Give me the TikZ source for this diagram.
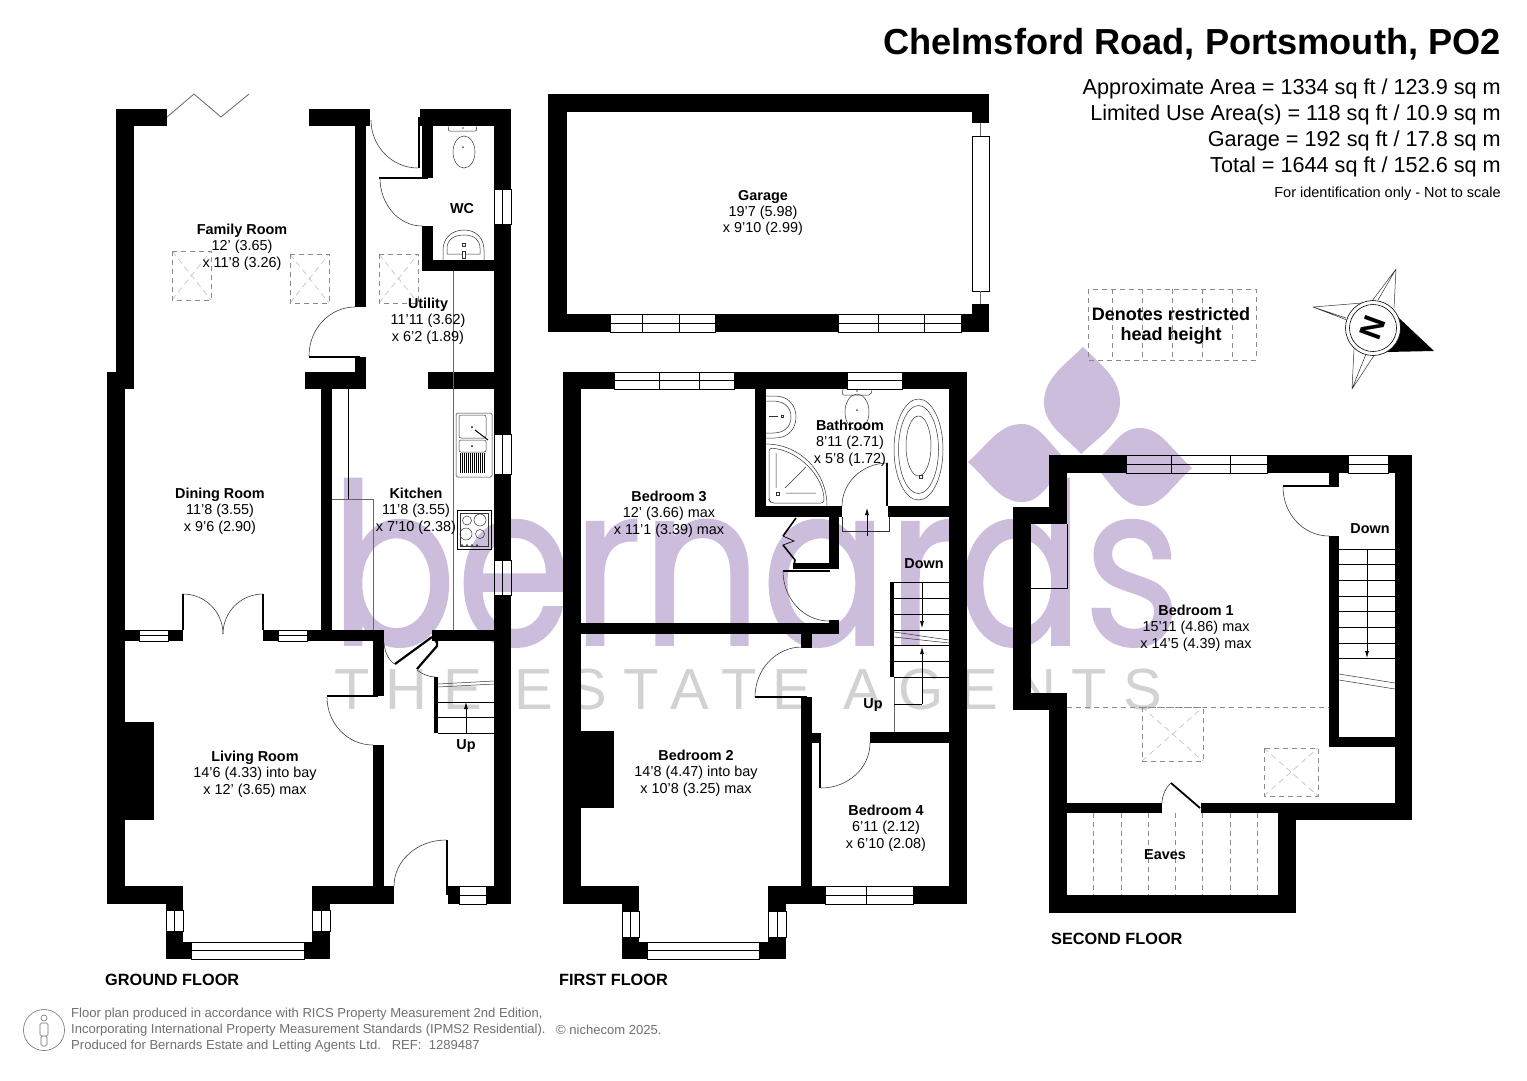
\documentclass[tikz,border=0pt]{standalone}
\usepackage{fontspec}
\setmainfont{Liberation Sans}
\newfontfamily\wmfont[FakeBold=.8]{Poppins}
\newfontfamily\wmtwo[LetterSpace=27.6]{Liberation Sans}
\usetikzlibrary{calc,arrows.meta}
\definecolor{wmpurple}{HTML}{CBBDDB}
\definecolor{wmgray}{HTML}{D2D2D2}
\definecolor{dashgray}{HTML}{8A8A8A}
\definecolor{footgray}{HTML}{707070}
\tikzset{
  wallfill/.style={fill=black},
  thinline/.style={draw=black,line width=.7pt},
  greyline/.style={draw=black!60,line width=.8pt},
  fixture/.style={draw=black!80,line width=.5pt},
  doorarc/.style={draw=black!75,line width=.6pt},
  skydash/.style={draw=dashgray,line width=.7pt,dash pattern=on 5pt off 4pt},
  skydiag/.style={draw=black!25,line width=.6pt,dash pattern=on 6pt off 4pt},
  roomlabel/.style={align=center,font=\fontsize{14.4}{16.3}\selectfont,inner sep=0pt,yshift=-1pt},
  boldlabel/.style={font=\fontsize{14.4}{16}\selectfont\bfseries,inner sep=0pt,yshift=-1pt},
  floorlabel/.style={font=\fontsize{16.3}{18}\selectfont\bfseries,inner sep=0pt,anchor=west,yshift=-1pt},
  infoline/.style={font=\fontsize{21.65}{24}\selectfont,inner sep=0pt,anchor=east,yshift=-2pt},
  footline/.style={font=\fontsize{13.05}{14}\selectfont,text=footgray,inner sep=0pt,anchor=west,yshift=-1pt},
  stairarrow/.style={thinline,-{Latex[length=7pt,width=4pt]}}
}
\newcommand{\W}[4]{\fill[wallfill] (#1,#2) rectangle (#3,#4);}
\newcommand{\winh}[4]{\draw[thinline] (#1,#2) rectangle (#3,#4); \draw[thinline] (#1,{(#2+#4)/2}) -- (#3,{(#2+#4)/2});}
\newcommand{\winv}[4]{\draw[thinline] (#1,#2) rectangle (#3,#4); \draw[thinline] ({(#1+#3)/2},#2) -- ({(#1+#3)/2},#4);}
\newcommand{\qarc}[3]{\draw[doorarc] (#1) .. controls ($(#1)!.5523!(#2)$) and ($(#3)!.5523!(#2)$) .. (#3);}
\newcommand{\sky}[4]{\draw[skydiag] (#1,#2) -- (#3,#4) (#1,#4) -- (#3,#2); \draw[skydash] (#1,#2) rectangle (#3,#4);}
\newcommand{\room}[4]{\node[roomlabel] at (#1) {\textbf{#2}\\#3\\#4};}
\begin{document}
\begin{tikzpicture}[x=1pt,y=-1pt]
\useasboundingbox (0,0) rectangle (1527,1080);
\fill[white] (0,0) rectangle (1527,1080);
% ---------- watermark
\fill[wmpurple] (1083,347) .. controls (1100,364) and (1120,378) .. (1120,402) .. controls (1120,425) and (1100,436) .. (1081,454) .. controls (1065,436) and (1044,425) .. (1044,402) .. controls (1044,378) and (1066,364) .. (1083,347) -- cycle;
\fill[wmpurple] (968,462) .. controls (990,442) and (1000,424) .. (1022,424) .. controls (1040,424) and (1050,445) .. (1068,462) .. controls (1050,480) and (1042,502) .. (1022,502) .. controls (1000,502) and (990,482) .. (968,462) -- cycle;
\fill[wmpurple] (1093,464) .. controls (1115,445) and (1120,428) .. (1140,428) .. controls (1160,428) and (1170,448) .. (1192,468) .. controls (1170,488) and (1162,506) .. (1142,506) .. controls (1122,506) and (1112,484) .. (1093,464) -- cycle;
\node[anchor=base west,inner sep=0pt,text=wmpurple,xscale=.83] (wmark) at (330,645) {\wmfont\fontsize{225}{225}\selectfont bernards};
\node[anchor=base west,inner sep=0pt,text=wmgray] (wmarktwo) at (334,709) {\wmtwo\fontsize{58}{58}\selectfont THE ESTATE AGENTS};
% ---------- GROUND FLOOR walls
\W{116}{109}{167}{126}\W{116}{109}{134}{389}\W{107}{372}{134}{389}\W{107}{372}{125}{904}
\W{309}{109}{370}{126}\W{355}{126}{366}{307}\W{420}{109}{511}{126}
\W{422}{126}{433}{178}\W{422}{226}{433}{271}\W{422}{260}{494}{271}
\W{494}{109}{511}{189}\W{494}{224}{511}{434}\W{494}{474}{511}{560}\W{494}{595}{511}{904}
\W{355}{357}{366}{372}\W{305}{372}{366}{389}\W{428}{372}{494}{389}\W{321}{389}{332}{630}
\W{107}{630}{139}{641}\W{168}{630}{183}{641}\W{263}{630}{278}{641}\W{307}{630}{384}{641}
\W{373}{641}{384}{696}\W{373}{745}{384}{904}\W{432}{630}{494}{641}
\W{107}{886}{183}{904}\W{166}{904}{183}{910}\W{166}{931}{183}{959}\W{183}{942}{191}{959}
\W{312}{886}{394}{904}\W{312}{904}{330}{910}\W{312}{931}{330}{959}\W{304}{942}{312}{959}
\W{448}{886}{459}{904}\W{486}{886}{511}{904}
\W{125}{722}{154}{820}
\W{434}{677}{438}{733}
% leaves
\W{418}{117}{420}{168}\W{379}{177}{428}{179}\W{309}{356}{360}{358}
\W{182}{594}{184}{630}\W{262}{594}{264}{630}\W{327}{695}{378}{697}\W{446}{840}{448}{895}
\qarc{371,120}{371,168}{418,168}
\qarc{380,178}{380,226}{422,226}
\qarc{355,307}{309,307}{309,356}
\qarc{183,594}{223,594}{223,634}
\qarc{263,594}{223,594}{223,634}
\qarc{327,697}{327,745}{373,745}
\qarc{384,643}{385,660}{395,664}
\qarc{394,886}{394,840}{446,840}
\qarc{417,670}{425,677}{435,677}
\draw[black,line width=2.2pt] (395,664) -- (432,637);
\draw[black,line width=2.2pt] (417,669) -- (437,646) -- (437,641);
\draw[black,line width=1.5pt] (432,637) -- (437,643);
% ground windows
\winv{494}{189}{511}{224}\winv{494}{434}{511}{474}\winv{494}{560}{511}{595}
\winh{139}{630}{168}{641}\winh{278}{630}{307}{641}
\winv{166}{910}{183}{931}\winv{312}{910}{330}{931}
\winh{191}{942}{304}{959}\winh{459}{886}{486}{904}
% ground misc lines
\draw[greyline] (453,271) -- (453,630);
\draw[thinline] (348,389) -- (348,499);
\draw[greyline] (332,499) -- (373,499) -- (373,630);
\draw[greyline] (167,117) -- (194,94) -- (221,117) -- (249,94);
\sky{172}{251}{211}{300}\sky{290}{254}{329}{303}\sky{379}{254}{418}{303}
% ground stairs
\draw[thinline] (438,733) -- (494,733) (438,717) -- (494,717) (438,702) -- (494,702);
\draw[fixture] (438,684) -- (494,681) (438,687) -- (494,684);
\draw[stairarrow] (466,733) -- (466,702);
% WC fixtures
\draw[fixture,rounded corners=2pt] (449,126) -- (448,131) -- (477,131) -- (476,126);
\draw[fixture] (464,152) ellipse [x radius=11,y radius=16];
\fill[black!70] (463,147) circle [radius=1];\fill[black!70] (463,128) circle [radius=.8];
\draw[fixture] (443,260) -- (443,250) .. controls (443,238) and (452,230) .. (464,230) .. controls (476,230) and (484,238) .. (484,250) -- (484,260);
\draw[fixture] (447,254) -- (447,248) .. controls (447,240) and (454,235) .. (464,235) .. controls (474,235) and (480,240) .. (480,248) -- (480,254) -- cycle;
\draw[fixture,fill=white] (462,243) rectangle (465,246) (462,251) rectangle (465,258);
% sink
\draw[fixture,rounded corners=1.5pt] (456,413) rectangle (492,477);
\draw[fixture,rounded corners=2pt] (459,415) rectangle (486,438);
\draw[fixture,rounded corners=2pt] (459,440) rectangle (486,452);
\fill[black] (472,427) circle [radius=1];\fill[black] (472,446) circle [radius=1];
\draw[black,line width=1pt] (475,430) -- (488,440);
\foreach \dx in {460,462,...,484}{\draw[black,line width=.8pt] (\dx,453) -- (\dx,473);}
% hob
\draw[thinline] (457,510) rectangle (491,549);
\draw[fixture] (460,513) rectangle (488,546);
\draw[fixture] (467,520.5) circle [radius=4.5] (480,520) circle [radius=6] (466,534) circle [radius=6] (480,534) circle [radius=4.5];
\foreach \kx in {462,467,472,477}{\draw[fixture] (\kx,545.5) circle [radius=1];}
% ---------- GARAGE
\W{548}{94}{989}{112}\W{548}{94}{567}{332}\W{972}{112}{989}{123}\W{972}{304}{989}{332}
\W{548}{314}{610}{332}\W{715}{314}{838}{332}\W{961}{314}{989}{332}
\winh{610}{314}{715}{332}\winh{838}{314}{961}{332}
\draw[thinline] (642,314) -- (642,332) (679,314) -- (679,332) (878,314) -- (878,332) (924,314) -- (924,332);
\draw[thinline] (972,136) rectangle (989,291);
\draw[greyline] (980,123) -- (980,136) (980,291) -- (980,304);
% ---------- FIRST FLOOR
\W{563}{372}{581}{904}\W{563}{372}{614}{389}\W{734}{372}{847}{389}\W{902}{372}{967}{389}\W{949}{372}{967}{904}
\W{755}{389}{766}{517}\W{755}{506}{842}{517}\W{888}{506}{949}{517}\W{886}{463}{888}{506}
\W{829}{517}{839}{569}\W{793}{563}{839}{569}
\W{581}{623}{839}{634}\W{829}{620}{839}{623}\W{801}{634}{812}{648}\W{801}{697}{812}{886}
\W{755}{696}{807}{698}\W{812}{733}{821}{743}\W{819}{733}{821}{788}\W{870}{732}{949}{743}
\W{563}{886}{639}{904}\W{622}{904}{639}{911}\W{622}{937}{639}{959}\W{639}{942}{647}{959}
\W{768}{886}{825}{904}\W{768}{904}{786}{911}\W{768}{937}{786}{959}\W{759}{942}{768}{959}
\W{913}{886}{967}{904}
\W{581}{731}{614}{808}
\W{890}{582}{894}{677}\W{783}{570}{830}{572}
\winh{614}{372}{734}{389}\draw[thinline] (659,372) -- (659,389) (699,372) -- (699,389);
\winh{847}{372}{902}{389}
\winv{622}{911}{639}{937}\winv{768}{911}{786}{937}
\winh{647}{942}{759}{959}
\winh{825}{886}{913}{904}\draw[thinline] (866,886) -- (866,904);
\qarc{888,463}{842,463}{842,506}
\qarc{783,571}{783,621}{829,621}
\qarc{802,647}{755,647}{755,697}
\qarc{821,788}{870,788}{870,743}
% wardrobe bifold
\draw[black,line width=1.6pt] (796,518) -- (783,536);
\draw[black,line width=.7pt] (783,536) -- (794,541) -- (783,545);
\draw[black,line width=1.6pt] (783,545) -- (795,560) -- (794,565);
% step at bath door
\draw[fixture] (842,517) -- (842,531) -- (889,531) -- (889,517);
\draw[stairarrow] (867,536) -- (867,508);
% FF stairs
\draw[greyline] (894,677) -- (894,732);
\foreach \ty in {582,598,614,630,645,661,677}{\draw[thinline] (894,\ty) -- (949,\ty);}
\draw[thinline] (894,704) -- (922,704);
\draw[stairarrow] (922,704) -- (922,647);
\draw[stairarrow] (922,582) -- (922,628);
\draw[fixture] (894,632) -- (949,640) (894,637) -- (949,643);
% bathroom fixtures
\draw[fixture] (766,396) -- (775,396) .. controls (789,396) and (796,406) .. (796,417) .. controls (796,428) and (789,438) .. (775,438) -- (766,438);
\draw[fixture] (766,401) -- (773,401) .. controls (785,401) and (791,408) .. (791,417) .. controls (791,426) and (785,433) .. (773,433) -- (766,433);
\draw[fixture] (769,416) -- (778,416);\draw[fixture] (781,415) rectangle (783,417);
\draw[fixture] (766,444) .. controls (800,444) and (827,472) .. (827,506);
\draw[fixture,rounded corners=3pt] (769,448) .. controls (798,450) and (824,476) .. (824,503) -- (771,503) -- (769,500) -- cycle;
\draw[fixture] (776,453) -- (776,488) (785,488) -- (806,467) (786,493) -- (816,493);
\draw[fixture] (776,492) rectangle (779,495);
\draw[fixture,rounded corners=2pt] (843,389) -- (842,395) -- (871,395) -- (872,389);
\draw[fixture] (857,412) ellipse [x radius=12,y radius=18];
\fill[black!70] (857,410) circle [radius=1];\fill[black!70] (857,391) circle [radius=.8];
\draw[fixture] (918.5,449.5) ellipse [x radius=24.5,y radius=50.5];
\draw[fixture] (918.5,449.5) ellipse [x radius=20,y radius=44];
\draw[fixture] (918.5,446) ellipse [x radius=12.5,y radius=30];
\draw[fixture] (919,475) rectangle (922,478);
% ---------- SECOND FLOOR
\W{1049}{455}{1126}{473}\W{1267}{455}{1348}{473}\W{1388}{455}{1412}{473}
\W{1049}{455}{1067}{524}\W{1013}{507}{1067}{524}\W{1013}{507}{1031}{710}\W{1013}{693}{1067}{710}
\W{1049}{693}{1067}{913}\W{1049}{895}{1296}{913}\W{1278}{813}{1296}{913}
\W{1067}{803}{1162}{813}\W{1201}{803}{1412}{813}\W{1296}{803}{1412}{820}
\W{1395}{455}{1412}{820}\W{1329}{536}{1339}{747}\W{1329}{737}{1395}{747}
\W{1329}{473}{1339}{487}\W{1283}{485}{1334}{487}
\winh{1126}{455}{1267}{473}\draw[thinline] (1171,455) -- (1171,473) (1230,455) -- (1230,473);
\winh{1348}{455}{1388}{473}
\qarc{1283,487}{1283,536}{1329,536}
\qarc{1162,803}{1162,790}{1171,783}
\draw[black,line width=1.8pt] (1171,783) -- (1200,808);
\draw[thinline] (1031,588) -- (1067,588) -- (1067,524);
\foreach \ty in {549,564,580,596,611,627,643,658}{\draw[thinline] (1339,\ty) -- (1395,\ty);}
\draw[stairarrow] (1367,549) -- (1367,658);
\draw[fixture] (1339,674) -- (1395,683) (1339,680) -- (1395,689);
\draw[skydash] (1067,707) -- (1329,707);
\sky{1142}{707}{1203}{761}\sky{1264}{748}{1318}{796}
\foreach \ex in {1093,1121,1148,1175,1202,1230,1257}{\draw[skydash] (\ex,813) -- (\ex,895);}
% ---------- key box
\draw[skydash] (1088,289) rectangle (1256,360);
\foreach \bx in {1112,1142,1172,1202,1232}{\draw[skydash] (\bx,289) -- (\bx,360);}
\node[align=center,inner sep=0pt,font=\fontsize{18}{20}\selectfont\bfseries,yshift=-1pt] (keytext) at (1171,325) {Denotes restricted\\head height};
% ---------- compass
\coordinate (cc) at (1373,328);
\draw[fixture] (1396,269) -- (1378,300) (1396,269) -- (1394,308) (1396,269) -- (1372,301);
\draw[fixture] (1313,307) -- (1346,318) (1313,307) -- (1362,303) (1313,307) -- (1352,322);
\draw[fixture] (1352,389) -- (1354,349) (1352,389) -- (1366,354) (1352,389) -- (1375,354);
\fill[black] (1434,351) -- (1399,318) .. controls (1402,330) and (1397,345) .. (1386,352) -- cycle;
\draw[black,line width=.6pt,fill=white] (cc) circle [radius=27.5];
\draw[black,line width=.6pt] (cc) circle [radius=23.5];
\node[rotate=-110,inner sep=0pt,font=\fontsize{31}{31}\selectfont\bfseries] (north) at (cc) {N};
% ---------- room labels
\room{242,246}{Family Room}{12' (3.65)}{x 11'8 (3.26)}
\room{428,320}{Utility}{11'11 (3.62)}{x 6'2 (1.89)}
\node[boldlabel] (wc) at (462,208) {WC};
\room{220,510}{Dining Room}{11'8 (3.55)}{x 9'6 (2.90)}
\room{416,510}{Kitchen}{11'8 (3.55)}{x 7'10 (2.38)}
\room{255,773}{Living Room}{14'6 (4.33) into bay}{x 12' (3.65) max}
\node[boldlabel] (up1) at (466,745) {Up};
\room{763,212}{Garage}{19'7 (5.98)}{x 9'10 (2.99)}
\room{850,442}{Bathroom}{8'11 (2.71)}{x 5'8 (1.72)}
\room{669,513}{Bedroom 3}{12' (3.66) max}{x 11'1 (3.39) max}
\node[boldlabel] (down1) at (924,563) {Down};
\node[boldlabel] (up2) at (873,704) {Up};
\room{696,772}{Bedroom 2}{14'8 (4.47) into bay}{x 10'8 (3.25) max}
\room{886,827}{Bedroom 4}{6'11 (2.12)}{x 6'10 (2.08)}
\room{1196,627}{Bedroom 1}{15'11 (4.86) max}{x 14'5 (4.39) max}
\node[boldlabel] (down2) at (1370,528) {Down};
\node[boldlabel] (eaves) at (1165,854) {Eaves};
% ---------- headings
\node[anchor=east,inner sep=0pt,font=\fontsize{36.2}{38}\selectfont\bfseries,yshift=-2pt] (title) at (1501,42) {Chelmsford Road, Portsmouth, PO2};
\node[infoline] (i1) at (1501,87) {Approximate Area = 1334 sq ft / 123.9 sq m};
\node[infoline] (i2) at (1501,113) {Limited Use Area(s) = 118 sq ft / 10.9 sq m};
\node[infoline] (i3) at (1501,139) {Garage = 192 sq ft / 17.8 sq m};
\node[infoline] (i4) at (1501,165) {Total = 1644 sq ft / 152.6 sq m};
\node[anchor=east,inner sep=0pt,font=\fontsize{14.5}{16}\selectfont,yshift=-1pt] (i5) at (1501,193) {For identification only - Not to scale};
\node[floorlabel] (gf) at (105,979) {GROUND FLOOR};
\node[floorlabel] (ff) at (559,979) {FIRST FLOOR};
\node[floorlabel] (sf) at (1051,938) {SECOND FLOOR};
% ---------- footer
\draw[footgray,line width=.6pt] (44,1030) circle [radius=20.5];
\draw[footgray,line width=.6pt] (44,1018) circle [radius=3];
\draw[footgray,line width=.6pt,rounded corners=1.5pt] (40,1023) rectangle (48,1036) (41,1036) rectangle (47,1046);
\node[footline] (f1) at (71,1013) {Floor plan produced in accordance with RICS Property Measurement 2nd Edition,};
\node[footline] (f2) at (71,1029) {Incorporating International Property Measurement Standards (IPMS2 Residential).};
\node[footline] (f3) at (71,1045) {Produced for Bernards Estate and Letting Agents Ltd.\ \ \ REF:\ \ 1289487};
\node[footline] (f4) at (556,1029) {\textcopyright\ nichecom 2025.};
\end{tikzpicture}
\end{document}
